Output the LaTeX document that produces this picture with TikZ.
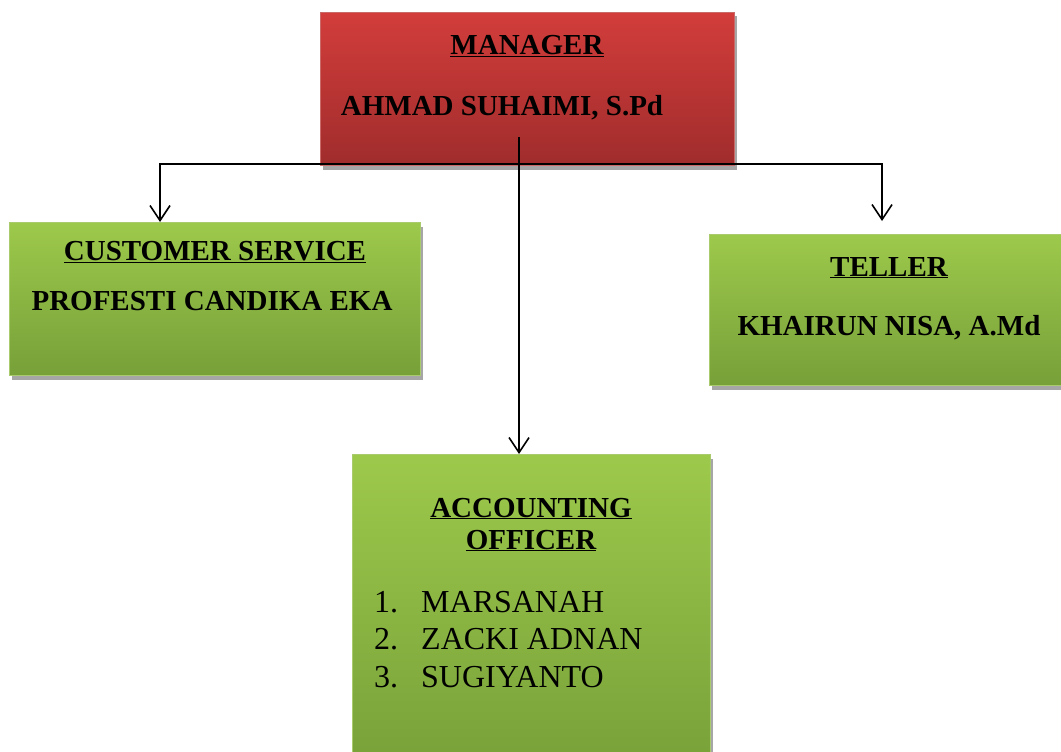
\documentclass[tikz,border=0pt]{standalone}
\usepackage{fontspec}
\setmainfont{Liberation Serif}
\usetikzlibrary{arrows.meta,shadows}
\definecolor{redtop}{HTML}{D23D3B}
\definecolor{redbot}{HTML}{A02C2C}
\definecolor{rededge}{HTML}{C96A68}
\definecolor{grntop}{HTML}{9DC94B}
\definecolor{grnbot}{HTML}{77A039}
\definecolor{grnedge}{HTML}{A9CB6E}
\definecolor{shade}{HTML}{A6A6A6}
\tikzset{
  boxbase/.style={rectangle, inner sep=0pt, line width=1pt, anchor=north west,
    drop shadow={shadow xshift=2pt, shadow yshift=-4pt, fill=shade, opacity=1}},
  redbox/.style={boxbase, top color=redtop, bottom color=redbot, draw=rededge},
  grnbox/.style={boxbase, top color=grntop, bottom color=grnbot, draw=grnedge},
  hd/.style={font=\fontsize{29}{34}\selectfont\bfseries, inner sep=0pt, anchor=base},
  li/.style={font=\fontsize{32}{36}\selectfont, inner sep=0pt, anchor=base west},
  arr/.style={line width=1.6pt, -{Straight Barb[length=15pt,width=20pt,line width=1.6pt]}}
}
\begin{document}
\begin{tikzpicture}[x=1pt,y=-1pt]
\useasboundingbox (0,0) rectangle (1061,752);
% boxes
\node[redbox, minimum width=414pt, minimum height=153pt] (mgr) at (320,12) {};
\node[grnbox, minimum width=411pt, minimum height=153pt] (cs) at (9,222) {};
\node[grnbox, minimum width=370pt, minimum height=151pt] (tel) at (709,234) {};
\node[grnbox, minimum width=358pt, minimum height=320pt] (acc) at (352,454) {};
% connectors
\coordinate (mgrin) at (519,137);
\coordinate (junc) at (519,164);
\coordinate (csend) at (160,222);
\coordinate (telend) at (882,221);
\coordinate (accend) at (519,454);
\draw[arr] (junc) -| (csend);
\draw[arr] (junc) -| (telend);
\draw[arr] (mgrin) -- (accend);
% texts
\node[hd] (mgrt) at (527,55) {\underline{MANAGER}};
\node[hd] (mgrn) at (502,115) {AHMAD SUHAIMI, S.Pd};
\node[hd] (cst) at (215,260) {\underline{CUSTOMER SERVICE}};
\node[hd] (csn) at (212,310) {PROFESTI CANDIKA EKA};
\node[hd] (telt) at (889,276) {\underline{TELLER}};
\node[hd] (teln) at (889,335) {KHAIRUN NISA, A.Md};
\node[hd] (acct1) at (531,517) {\underline{ACCOUNTING}};
\node[hd] (acct2) at (531,549) {\underline{OFFICER}};
\node[li] (n1) at (374,612) {1.};
\node[li] (n2) at (374,649) {2.};
\node[li] (n3) at (374,687) {3.};
\node[li] (i1) at (421,612) {MARSANAH};
\node[li] (i2) at (421,649) {ZACKI ADNAN};
\node[li] (i3) at (421,687) {SUGIYANTO};
\end{tikzpicture}
\end{document}
